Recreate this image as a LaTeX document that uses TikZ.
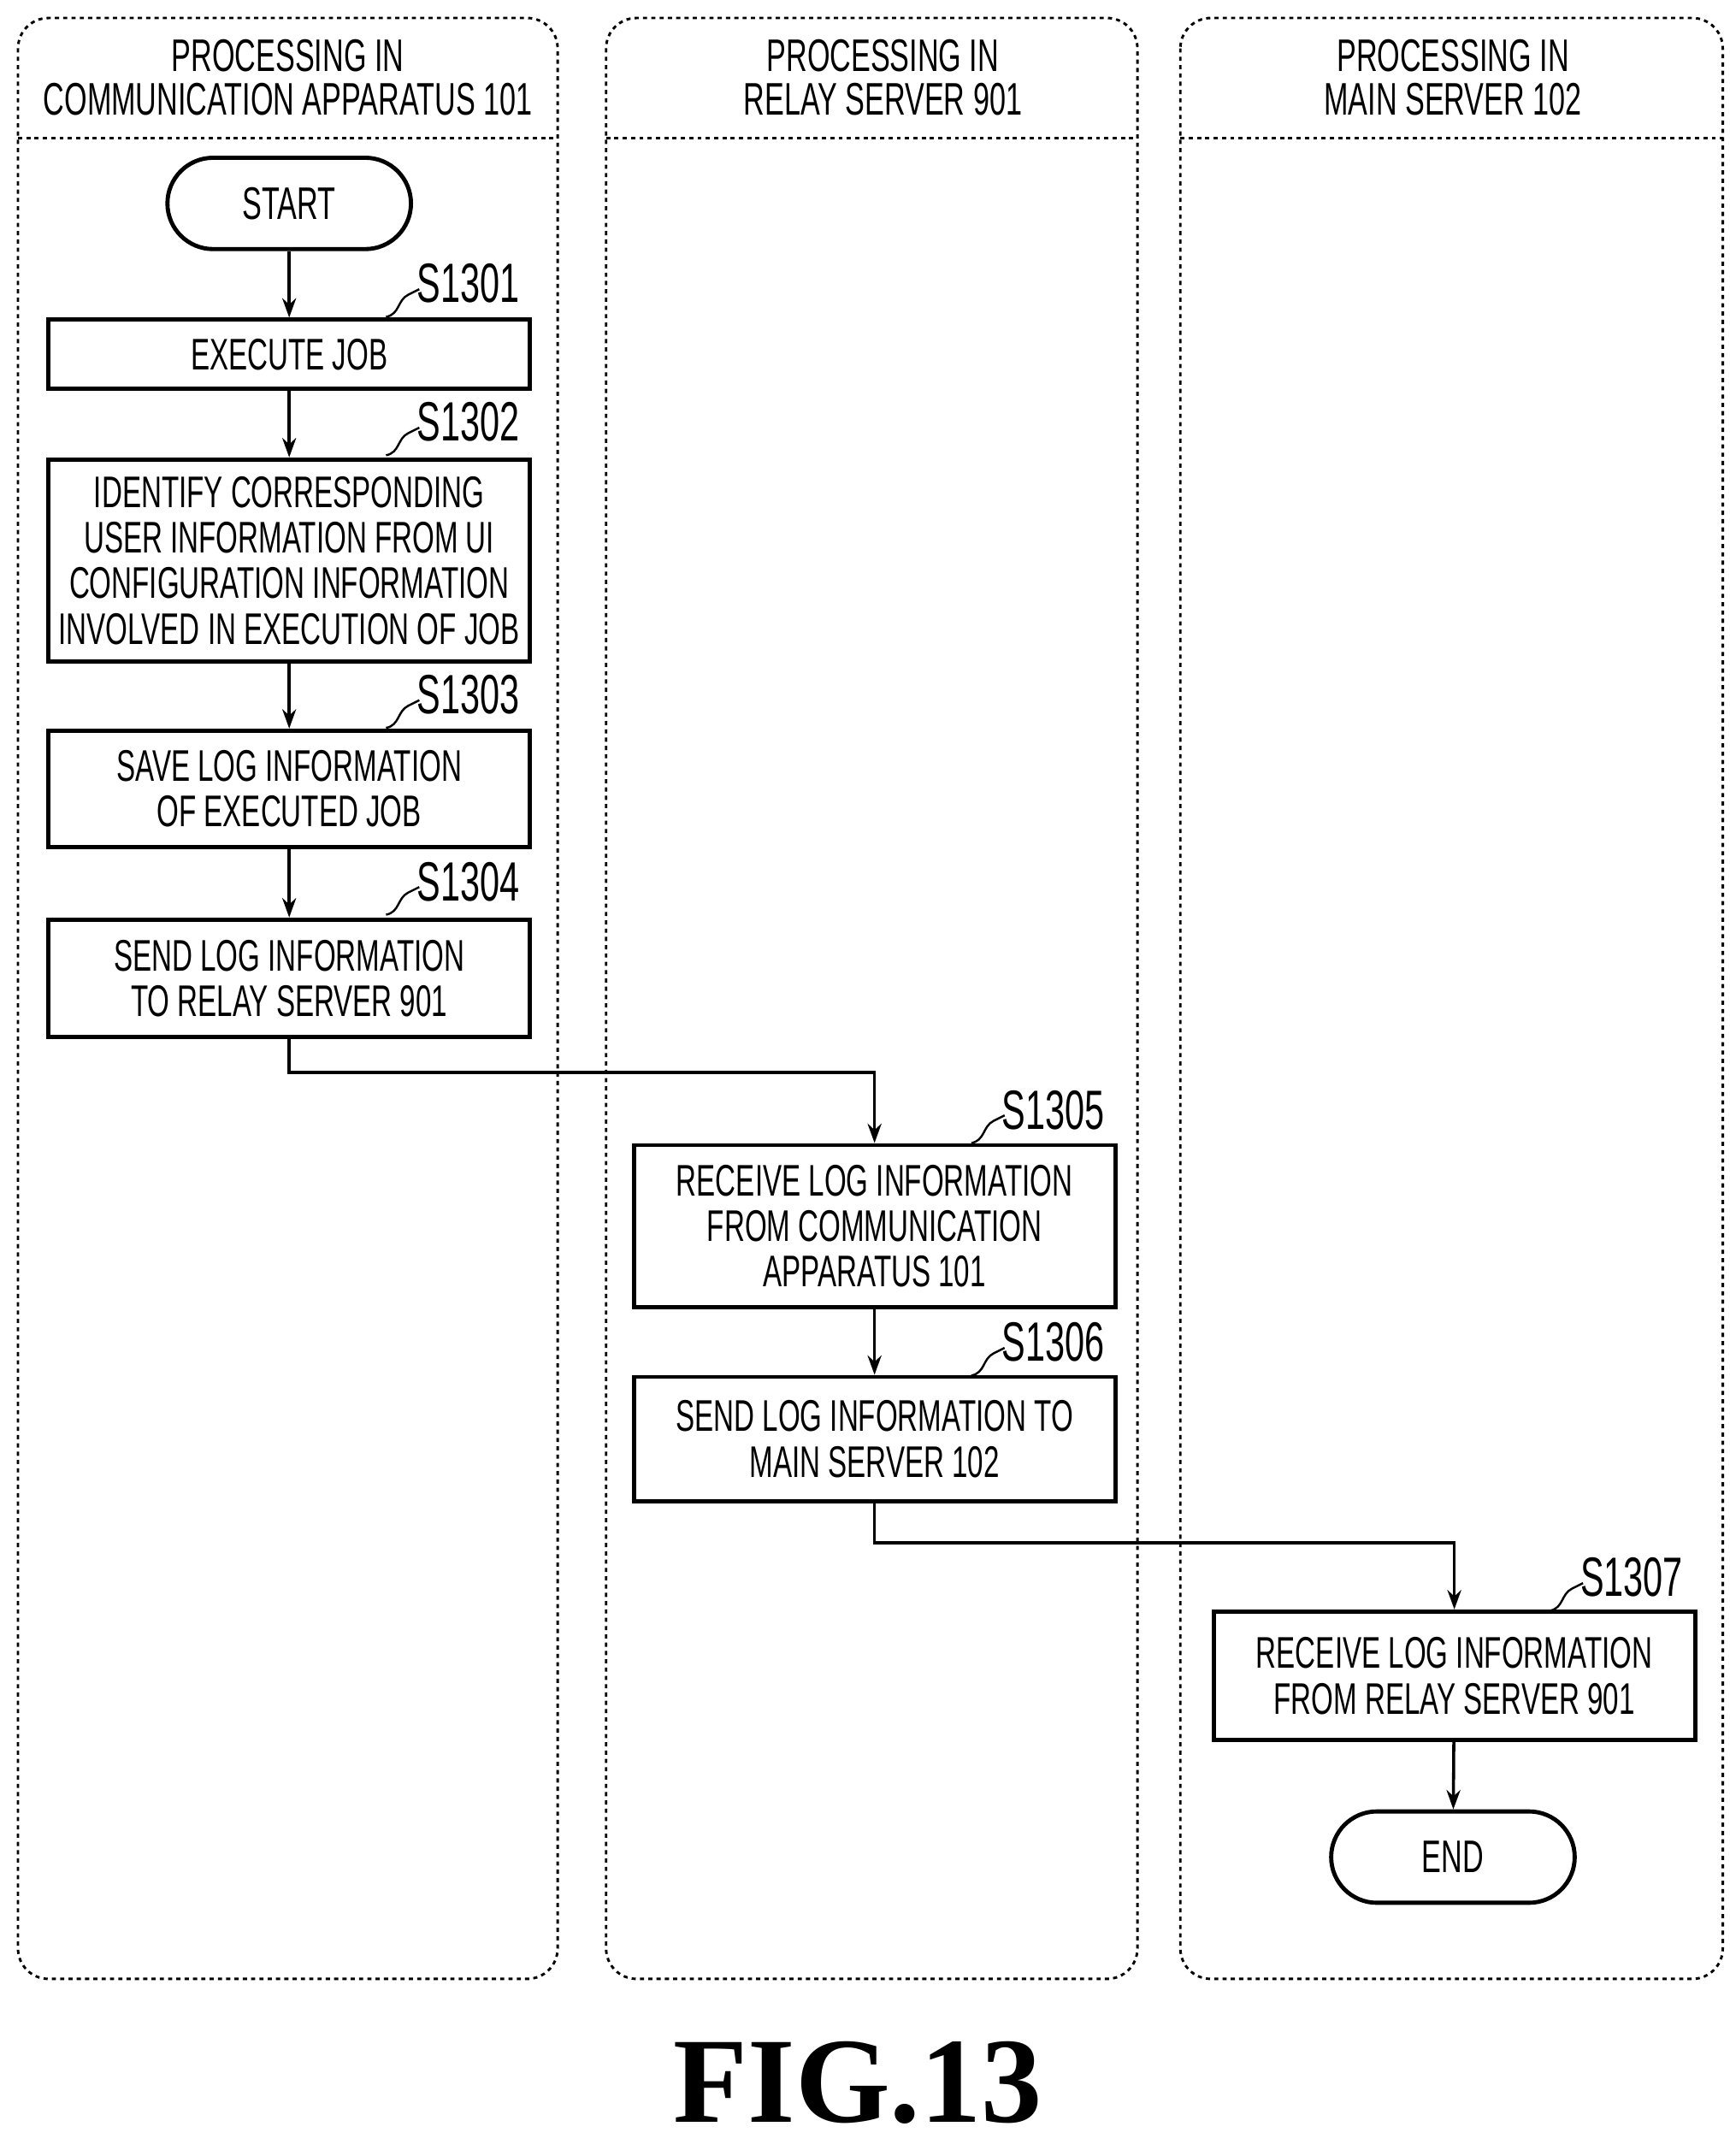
\documentclass[tikz,border=0pt]{standalone}
\usepackage{fontspec}
\setmainfont{Liberation Sans}[FakeStretch=0.64]
\newfontfamily\figfont{Liberation Serif}
\usetikzlibrary{arrows.meta}
\begin{document}
\begin{tikzpicture}[x=1pt,y=-1pt,
  lane/.style={draw,dashed,line width=1.8pt,rounded corners=22pt},
  box/.style={draw,line width=3pt,align=center,font=\fontsize{32}{33}\selectfont,inner sep=0pt},
  term/.style={draw,line width=3pt,rounded corners=33pt,minimum width=176pt,minimum height=66pt,font=\fontsize{33}{33}\selectfont},
  hdr/.style={align=center,font=\fontsize{33}{32}\selectfont},
  lbl/.style={font=\fontsize{40}{40}\selectfont,anchor=west,inner sep=0pt},
  arr/.style={line width=2.2pt,-{Stealth[length=14pt,width=10pt]}},
  sq/.style={line width=1.5pt}]
\useasboundingbox (0,0) rectangle (1250,1558);
% lanes
\draw[lane] (13,13) rectangle (403,1430);
\draw[lane] (438,13) rectangle (822,1430);
\draw[lane] (853,13) rectangle (1245,1430);
\draw[dashed,line width=1.8pt] (13,100) -- (403,100) (438,100) -- (822,100) (853,100) -- (1245,100);
\node[hdr] (h1) at (208,56) {PROCESSING IN\\COMMUNICATION APPARATUS 101};
\node[hdr] (h2) at (638,56) {PROCESSING IN\\RELAY SERVER 901};
\node[hdr] (h3) at (1050,56) {PROCESSING IN\\MAIN SERVER 102};
% nodes
\node[term] (start) at (209,147) {START};
\node[box,minimum width=348pt,minimum height=50pt] (s1) at (209,256) {EXECUTE JOB};
\node[box,minimum width=348pt,minimum height=146pt] (s2) at (209,405) {IDENTIFY CORRESPONDING\\USER INFORMATION FROM UI\\CONFIGURATION INFORMATION\\INVOLVED IN EXECUTION OF JOB};
\node[box,minimum width=348pt,minimum height=84pt] (s3) at (209,570) {SAVE LOG INFORMATION\\OF EXECUTED JOB};
\node[box,minimum width=348pt,minimum height=85pt] (s4) at (209,707) {SEND LOG INFORMATION\\TO RELAY SERVER 901};
\node[box,minimum width=348pt,minimum height=117pt] (s5) at (632,886) {RECEIVE LOG INFORMATION\\FROM COMMUNICATION\\APPARATUS 101};
\node[box,minimum width=348pt,minimum height=90pt] (s6) at (632,1040) {SEND LOG INFORMATION TO\\MAIN SERVER 102};
\node[box,minimum width=348pt,minimum height=93pt] (s7) at (1051,1211) {RECEIVE LOG INFORMATION\\FROM RELAY SERVER 901};
\node[term] (end) at (1050,1342) {END};
% labels
\foreach \n/\t/\x/\y in {l1/S1301/301/205, l2/S1302/301/305, l3/S1303/301/502, l4/S1304/301/637, l5/S1305/724/802, l6/S1306/724/970, l7/S1307/1142/1140}{
  \node[lbl] (\n) at (\x,\y) {\t};
  \draw[sq] (\x-22,\y+24) .. controls (\x-12,\y+22) and (\x-14,\y+12) .. (\x-6,\y+8) .. controls (\x,\y+5) .. (\x+2,\y+4);
}
% arrows
\draw[arr] (start) -- (s1);
\draw[arr] (s1) -- (s2);
\draw[arr] (s2) -- (s3);
\draw[arr] (s3) -- (s4);
\draw[arr] (s4.south) |- (632,775) -- (s5.north);
\draw[arr] (s5) -- (s6);
\draw[arr] (s6.south) |- (1051,1115) -- (s7.north);
\draw[arr] (s7) -- (end);
\node[font=\figfont\bfseries\fontsize{88}{88}\selectfont] (fig) at (620,1505) {FIG.13};
\end{tikzpicture}
\end{document}
